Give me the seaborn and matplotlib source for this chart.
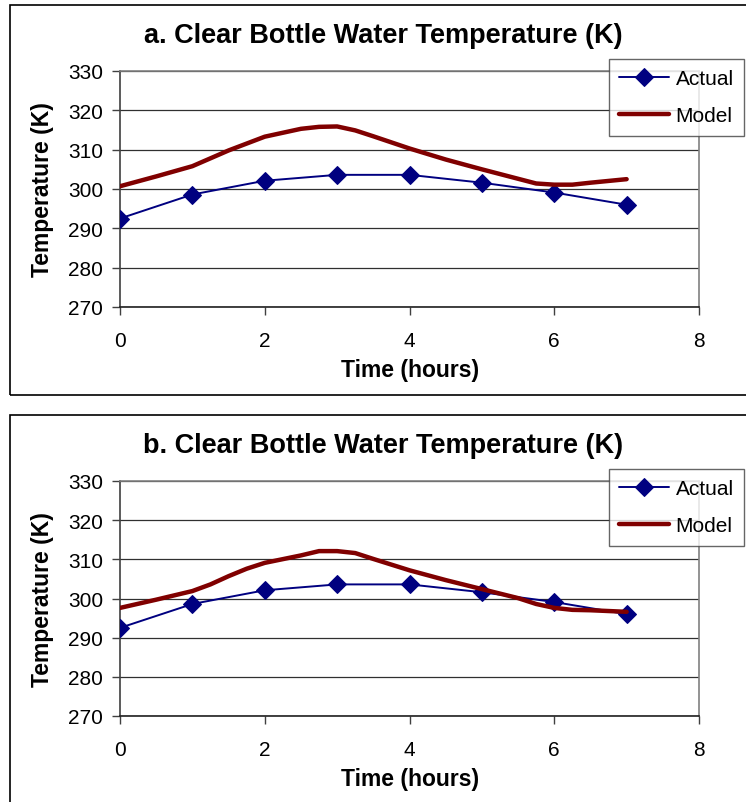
import matplotlib
matplotlib.use("Agg")
import matplotlib.pyplot as plt
import seaborn as sns
import pandas as pd
from matplotlib.patches import Rectangle

sns.set_theme(style="white")
plt.rcParams['font.family'] = ['Liberation Sans', 'DejaVu Sans']
plt.rcParams['text.color'] = 'black'
plt.rcParams['axes.labelcolor'] = 'black'
plt.rcParams['xtick.color'] = 'black'
plt.rcParams['ytick.color'] = 'black'

# ---- data ----
actual_hours = [0, 1, 2, 3, 4, 5, 6, 7]
actual_temp = [292.5, 298.6, 302.1, 303.6, 303.6, 301.6, 299.1, 296.0]

model_a_hours = [0, 0.5, 1, 1.5, 2, 2.5, 2.75, 3, 3.25, 3.5, 4, 4.5, 5, 5.5, 5.75, 6, 6.25, 6.5, 7]
model_a_temp = [300.7, 303.2, 305.8, 309.8, 313.3, 315.3, 315.8, 315.9, 314.9, 313.4, 310.3, 307.5, 305.0, 302.6, 301.4, 301.1, 301.1, 301.6, 302.5]

model_b_hours = [0, 0.5, 1, 1.25, 1.5, 1.75, 2, 2.5, 2.75, 3, 3.25, 3.5, 4, 4.5, 5, 5.5, 5.75, 6, 6.25, 6.5, 7]
model_b_temp = [297.6, 299.7, 301.9, 303.6, 305.7, 307.6, 309.1, 311.0, 312.1, 312.1, 311.6, 310.1, 307.2, 304.7, 302.4, 300.1, 298.6, 297.6, 297.1, 297.0, 296.6]

titles = ["a. Clear Bottle Water Temperature (K)", "b. Clear Bottle Water Temperature (K)"]
x_ticks = [0, 2, 4, 6, 8]
y_ticks = [270, 280, 290, 300, 310, 320, 330]
xlabel = "Time (hours)"
ylabel = "Temperature (K)"

W, H = 746, 803
fig = plt.figure(figsize=(W / 100, H / 100), dpi=100)

def fx(px):
    return px / W

def fy(py):
    return 1 - py / H

panels = [
    dict(top=72, bottom=308, box_top=6, box_bot=396, model=(model_a_hours, model_a_temp), title=titles[0]),
    dict(top=482, bottom=717, box_top=416, box_bot=820, model=(model_b_hours, model_b_temp), title=titles[1]),
]

left_px, right_px = 120, 699
navy = "#000080"
maroon = "#800000"

for p in panels:
    # outer chart border
    fig.patches.append(Rectangle((fx(9.5), fy(p['box_bot'])), fx(780), (p['box_bot'] - p['box_top']) / H,
                                 transform=fig.transFigure, fill=False, edgecolor='black', lw=1.2))
    ax = fig.add_axes([fx(left_px), fy(p['bottom']), fx(right_px - left_px), (p['bottom'] - p['top']) / H])
    df_act = pd.DataFrame({'Time': actual_hours, 'Temp': actual_temp})
    df_mod = pd.DataFrame({'Time': p['model'][0], 'Temp': p['model'][1]})
    sns.lineplot(data=df_act, x='Time', y='Temp', ax=ax, color=navy, lw=1.4, marker='D',
                 markersize=9, markeredgecolor=navy, label='Actual', zorder=3)
    sns.lineplot(data=df_mod, x='Time', y='Temp', ax=ax, color=maroon, lw=3.2, label='Model', zorder=4)
    ax.set_xlim(0, 8)
    ax.set_ylim(270, 330)
    ax.set_xticks(x_ticks)
    ax.set_yticks(y_ticks)
    ax.grid(axis='y', color='#303030', lw=0.9)
    ax.set_axisbelow(True)
    for s in ['top', 'right']:
        ax.spines[s].set_color('#808080')
        ax.spines[s].set_linewidth(1.2)
    ax.spines['left'].set_color('#404040')
    ax.spines['bottom'].set_color('#202020')
    ax.spines['left'].set_linewidth(1.2)
    ax.spines['bottom'].set_linewidth(1.2)
    ax.tick_params(axis='both', which='both', direction='out', length=6, width=1, color='#404040',
                   labelsize=15, labelcolor='black', left=True, bottom=True)
    ax.tick_params(axis='x', pad=11)
    ax.tick_params(axis='y', pad=6)
    ax.set_xlabel("")
    ax.set_ylabel("")
    # axis labels placed in pixel positions
    fig.text(fx(410), fy(p['bottom'] + 63), xlabel, ha='center', va='center',
             fontsize=16.5, fontweight='bold', color='black')
    fig.text(fx(43), fy((p['top'] + p['bottom']) / 2), ylabel, ha='center', va='center',
             rotation=90, fontsize=16.5, fontweight='bold', color='black')
    fig.text(fx(383), fy(p['box_top'] + 30), p['title'], ha='center', va='center',
             fontsize=19.5, fontweight='bold', color='black')
    leg = ax.legend(loc='upper right', bbox_to_anchor=(fx(744), fy(p['box_top'] + 54)),
                    bbox_transform=fig.transFigure, frameon=True, fancybox=False,
                    fontsize=15, handlelength=2.4, borderpad=0.5, labelspacing=0.85,
                    handletextpad=0.3, borderaxespad=0)
    leg.get_frame().set_edgecolor('#404040')
    leg.get_frame().set_linewidth(1.0)
    for t in leg.get_texts():
        t.set_color('black')

fig.savefig("out.png", dpi=100)
